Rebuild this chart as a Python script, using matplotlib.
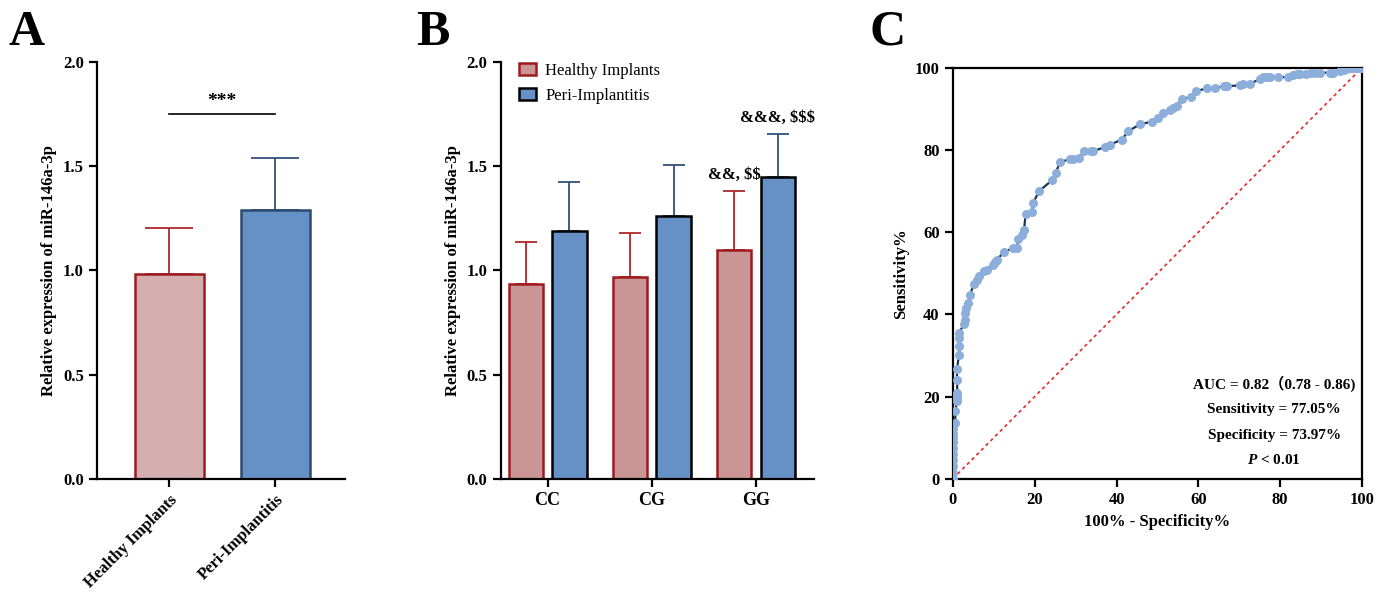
import matplotlib
matplotlib.use("Agg")
import matplotlib.pyplot as plt
import numpy as np

plt.rcParams['font.family'] = ['Liberation Serif', 'Noto Sans CJK SC']
plt.rcParams['font.weight'] = 'bold'
plt.rcParams['axes.linewidth'] = 1.6
plt.rcParams['mathtext.fontset'] = 'custom'
plt.rcParams['mathtext.it'] = 'Liberation Serif:italic:bold'
plt.rcParams['mathtext.rm'] = 'Liberation Serif:bold'

# ---- data ----
# panel A
groups_a = ["Healthy Implants", "Peri-Implantitis"]
mean_a = [0.98, 1.29]
sd_a = [0.225, 0.25]

# panel B
genotypes = ["CC", "CG", "GG"]
healthy_b = [0.936, 0.966, 1.099]
healthy_sd_b = [0.198, 0.213, 0.28]
peri_b = [1.187, 1.261, 1.448]
peri_sd_b = [0.237, 0.243, 0.206]
notes_b = [r"&&, \$\$", r"&&&, \$\$\$"]

# panel C (ROC curve, 100% - specificity vs sensitivity)
roc_x = [0, 0, 0, 0, 0, 0, 0, 0, 0, 0, 0.6, 0.6, 1.0, 1.0, 1.0, 1.1, 1.0, 1.0,
         1.5, 1.5, 1.5, 1.5, 2.8, 3.0, 3.0, 3.3, 3.8, 4.2, 5.2, 5.9, 6.5, 7.5,
         8.3, 9.9, 10.3, 10.7, 12.4, 14.8, 15.6, 16.0, 16.8, 17.4, 17.8, 19.3,
         19.6, 21.1, 24.2, 25.1, 26.2, 28.6, 29.3, 30.9, 32.0, 33.7, 34.3, 37.2,
         38.4, 41.3, 42.9, 45.7, 48.6, 50.2, 51.3, 53.0, 53.9, 54.7, 55.9, 58.1,
         59.4, 62.2, 64.0, 66.2, 66.9, 70.1, 70.9, 72.6, 75.0, 75.8, 76.6, 77.5,
         79.5, 81.9, 83.2, 84.0, 84.8, 86.4, 87.6, 88.5, 89.7, 92.1, 92.9, 94.5,
         95.5, 96.2, 97.0, 97.8, 98.6, 99.2, 100]
roc_y = [0, 1.5, 3.0, 4.5, 6.0, 7.5, 9.0, 10.0, 11.0, 12.0, 13.6, 16.4, 18.8,
         19.6, 20.3, 20.9, 24.1, 26.8, 30.0, 32.2, 34.3, 35.5, 37.7, 38.7, 40.3,
         41.6, 42.8, 44.8, 47.5, 48.3, 49.4, 50.5, 50.9, 52.1, 52.7, 53.2, 55.1,
         56.2, 56.2, 58.4, 59.4, 60.6, 64.5, 64.8, 67.1, 70.0, 72.6, 74.3, 77.1,
         77.7, 77.7, 78.1, 79.7, 79.7, 79.7, 80.7, 81.3, 82.5, 84.6, 86.2, 86.9,
         87.8, 89.0, 89.7, 90.3, 90.7, 92.3, 92.9, 94.3, 95.0, 95.0, 95.5, 95.5,
         95.7, 96.1, 96.1, 97.2, 97.7, 97.7, 97.7, 97.7, 97.7, 98.2, 98.4, 98.4,
         98.4, 98.8, 98.8, 98.8, 98.8, 98.8, 99.2, 99.5, 99.8, 100, 100, 100,
         100, 100]
roc_text = ["AUC = 0.82（0.78 - 0.86)", "Sensitivity = 77.05%",
            "Specificity = 73.97%", r"$P$ < 0.01"]

red_edge = '#9E1B20'
red_err = '#B0282C'
blue_fill = '#6591C7'
blue_edge = '#2B4A6E'
blue_err = '#2F5078'

fig = plt.figure(figsize=(13.87, 5.94), dpi=100)

# ---------------- panel A ----------------
ax1 = fig.add_axes([0.070, 0.194, 0.179, 0.702])
xa = np.arange(len(groups_a))
ax1.bar(xa, mean_a, width=0.65, color=['#D5AFAF', blue_fill],
        edgecolor=[red_edge, blue_edge], linewidth=1.8, zorder=2)
for i in range(len(xa)):
    ax1.errorbar(xa[i], mean_a[i], yerr=[[0], [sd_a[i]]], fmt='none',
                 ecolor=[red_err, blue_err][i], elinewidth=1.3, capsize=17,
                 capthick=1.3, zorder=1)
ax1.plot([0, 1], [1.75, 1.75], color='black', lw=1.2)
ax1.text(0.5, 1.77, "***", ha='center', va='bottom', fontsize=14, fontweight='bold')
ax1.set_xlim(-0.68, 1.66)
ax1.set_ylim(0, 2.0)
ax1.set_yticks([0, 0.5, 1.0, 1.5, 2.0])
ax1.set_yticklabels(["0.0", "0.5", "1.0", "1.5", "2.0"])
ax1.set_xticks(xa)
ax1.set_xticklabels(groups_a, rotation=45, ha='right', rotation_mode='anchor')
ax1.set_ylabel("Relative expression of miR-146a-3p", fontsize=12, fontweight='bold')
for s in ['top', 'right']:
    ax1.spines[s].set_visible(False)

# ---------------- panel B ----------------
ax2 = fig.add_axes([0.361, 0.194, 0.226, 0.702])
xb = np.arange(len(genotypes))
ax2.bar(xb - 0.21, healthy_b, width=0.33, color='#C99595', edgecolor=red_edge,
        linewidth=1.8, zorder=2, label="Healthy Implants")
ax2.bar(xb + 0.21, peri_b, width=0.33, color=blue_fill, edgecolor='black',
        linewidth=1.8, zorder=2, label="Peri-Implantitis")
ax2.errorbar(xb - 0.21, healthy_b, yerr=[np.zeros(3), healthy_sd_b], fmt='none',
             ecolor=red_err, elinewidth=1.3, capsize=8, capthick=1.3, zorder=1)
ax2.errorbar(xb + 0.21, peri_b, yerr=[np.zeros(3), peri_sd_b], fmt='none',
             ecolor=blue_err, elinewidth=1.3, capsize=8, capthick=1.3, zorder=1)
ax2.text(2 - 0.21, healthy_b[2] + healthy_sd_b[2] + 0.04, notes_b[0],
         ha='center', va='bottom', fontsize=12, fontweight='bold')
ax2.text(2 + 0.21, peri_b[2] + peri_sd_b[2] + 0.04, notes_b[1],
         ha='center', va='bottom', fontsize=12, fontweight='bold')
ax2.set_xlim(-0.45, 2.56)
ax2.set_ylim(0, 2.0)
ax2.set_yticks([0, 0.5, 1.0, 1.5, 2.0])
ax2.set_yticklabels(["0.0", "0.5", "1.0", "1.5", "2.0"])
ax2.set_xticks(xb)
ax2.set_xticklabels(genotypes, fontsize=13)
ax2.set_ylabel("Relative expression of miR-146a-3p", fontsize=12, fontweight='bold')
for s in ['top', 'right']:
    ax2.spines[s].set_visible(False)
leg = ax2.legend(loc='upper left', bbox_to_anchor=(0.012, 1.033), frameon=False,
                 prop={'weight': 'normal', 'size': 12}, handlelength=1.0,
                 handleheight=0.75, handletextpad=0.55, labelspacing=0.55)

# ---------------- panel C ----------------
ax3 = fig.add_axes([0.687, 0.194, 0.295, 0.692])
ax3.plot([0, 100], [0, 100], color='#E8282B', ls=(0, (2, 2)), lw=1.2, zorder=1)
ax3.plot(roc_x, roc_y, color='#1B3553', lw=1.6, zorder=2)
ax3.plot(roc_x, roc_y, ls='none', marker='o', markersize=6.5,
         color='#8CAEDB', markeredgewidth=0, zorder=3)
ax3.set_xlim(0, 100)
ax3.set_ylim(0, 100)
ax3.set_xticks(range(0, 101, 20))
ax3.set_yticks(range(0, 101, 20))
ax3.set_xlabel("100% - Specificity%", fontsize=12, fontweight='bold')
ax3.set_ylabel("Sensitivity%", fontsize=12, fontweight='bold')
for i, t in enumerate(roc_text):
    ax3.text(78.5, [23.1, 16.8, 10.5, 4.6][i], t, ha='center', va='center',
             fontsize=11, fontweight='bold')

for ax in (ax1, ax2, ax3):
    ax.tick_params(direction='out', width=1.6, length=6, labelsize=12)
    for lab in ax.get_xticklabels() + ax.get_yticklabels():
        lab.set_fontweight('bold')
ax2.tick_params(axis='x', labelsize=13)

fig.text(0.006, 0.925, "A", fontsize=36, fontweight='bold')
fig.text(0.300, 0.925, "B", fontsize=36, fontweight='bold')
fig.text(0.627, 0.925, "C", fontsize=36, fontweight='bold')

fig.savefig("out.png", dpi=100)
